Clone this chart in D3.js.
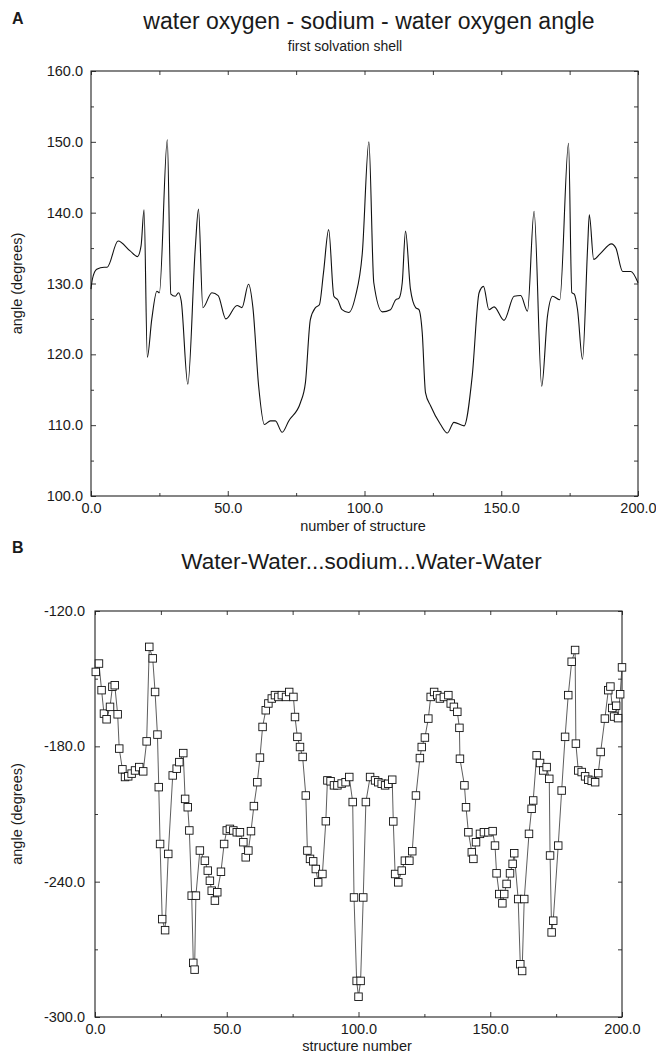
<!DOCTYPE html>
<html>
<head>
<meta charset="utf-8">
<script src="https://cdn.jsdelivr.net/npm/d3@7/dist/d3.min.js"></script>
<style>
body{margin:0;background:#fff;}
text{font-family:"Liberation Sans",Arial,Helvetica,sans-serif;fill:#1a1a1a;}
</style>
</head>
<body>
<svg id="chart" width="656" height="1055"></svg>
<script>
// panel A : water oxygen - sodium - water oxygen angle
const angleStructure = [0,0.5,2.1,4.8,5.9,9.9,14.3,17.0,18.3,19.4,20.6,22.2,24.1,25.0,27.9,29.2,30.8,32.0,33.0,35.4,38.1,39.3,40.9,44.2,46.5,49.3,53.4,55.2,57.6,59.2,61.3,63.4,65.6,67.4,69.9,72.3,76.6,78.4,80.2,82.1,83.5,85.0,86.9,88.8,90.2,91.8,94.2,96.7,99.2,101.6,103.4,106.5,109.5,111.4,112.6,113.8,115.0,116.8,118.7,119.9,121.1,122.3,124.2,127.8,130.3,132.7,136.4,139.4,141.9,143.5,145.5,147.4,151.0,154.7,157.1,159.6,162.0,164.8,166.9,168.8,171.4,174.6,175.8,176.7,177.9,179.7,181.6,182.2,183.8,186.4,190.3,191.9,194.4,197.4,200];
const angleValue = [129.2,130.6,132.0,132.3,132.3,136.0,134.6,133.8,135.3,140.4,119.6,124.9,128.9,128.7,150.3,128.5,128.2,128.7,127.5,115.8,134.8,140.5,126.6,128.7,128.3,125.0,126.9,126.6,129.9,126.6,115.5,110.1,110.6,110.6,109.0,110.6,113.2,116.0,124.9,126.6,127.0,131.5,137.6,128.2,127.7,126.3,125.9,128.2,134.3,150.0,130.1,126.0,126.3,127.7,127.9,130.1,137.4,129.2,126.6,126.3,123.1,114.6,112.7,110.1,108.9,110.4,109.9,117.0,128.7,129.6,126.3,126.7,124.8,128.2,128.3,126.1,140.2,115.5,125.4,128.2,127.7,149.8,128.7,128.5,126.3,119.3,135.3,139.7,133.4,134.3,135.6,135.0,131.7,131.7,130.1];

// panel B : Water-Water...sodium...Water-Water
const dihedralStructure = [0.3,1.5,2.5,3.4,4.4,5.7,6.6,7.5,8.6,9.2,10.4,11.4,12.6,13.9,15.2,16.8,18.3,19.6,20.6,21.9,22.8,23.7,24.2,24.7,25.5,26.6,27.8,29.5,31.0,32.0,33.5,34.2,35.2,35.8,36.7,37.3,37.8,38.3,39.8,41.7,42.8,43.6,44.3,45.5,46.4,47.8,49.0,50.0,51.2,52.5,53.8,55.0,56.3,57.2,58.2,59.2,60.3,61.6,62.6,63.6,64.8,65.8,67.1,68.3,69.6,70.9,72.5,73.7,75.3,75.9,76.8,77.8,78.8,80.0,80.6,81.6,82.8,83.8,84.7,86.3,87.6,88.2,89.4,90.7,92.0,93.6,95.1,96.5,97.8,98.3,99.3,100.0,100.8,101.8,102.8,104.4,106.3,107.5,108.8,110.1,111.3,112.8,113.2,113.9,115.1,116.4,117.6,119.3,120.4,121.8,123.3,124.0,125.2,126.5,127.4,128.7,129.9,130.9,132.4,134.1,135.0,136.2,137.5,138.3,138.5,140.2,140.8,141.7,143.0,143.6,144.6,146.1,147.6,149.3,150.9,151.8,152.4,153.4,154.6,155.3,156.2,157.5,158.5,159.1,160.6,161.4,162.1,162.9,164.7,165.7,166.3,167.6,168.9,170.1,171.4,172.4,172.7,173.3,173.9,175.8,177.1,178.4,179.6,180.9,182.2,182.5,183.4,184.7,186.0,187.2,188.5,189.8,191.0,191.9,193.5,194.8,195.6,196.3,197.0,197.8,198.5,199.3,200];
const dihedralValue = [-147.0,-143.3,-155.1,-165.5,-168.0,-162.5,-153.6,-152.9,-165.8,-181.0,-190.2,-193.6,-193.3,-192.1,-190.7,-189.2,-191.1,-177.8,-135.9,-141.0,-155.9,-174.8,-198.1,-223.3,-256.6,-261.5,-227.7,-192.9,-189.9,-187.0,-183.0,-203.3,-207.0,-217.3,-246.2,-276.0,-279.0,-246.2,-226.2,-230.7,-235.1,-239.6,-244.0,-248.4,-244.7,-235.6,-223.3,-217.3,-216.6,-217.3,-218.1,-218.1,-222.5,-229.2,-226.2,-217.6,-206.5,-195.9,-185.0,-171.4,-164.0,-161.0,-158.8,-157.3,-158.1,-157.3,-158.1,-155.9,-158.1,-167.0,-175.8,-180.3,-184.7,-201.8,-226.2,-229.9,-231.0,-234.4,-240.3,-236.6,-213.2,-195.1,-195.5,-197.3,-197.3,-196.5,-195.9,-193.6,-204.7,-247.0,-284.0,-291.0,-284.0,-247.0,-204.7,-193.6,-195.1,-195.9,-196.6,-197.3,-196.6,-194.8,-213.3,-236.6,-240.3,-235.1,-230.7,-230.7,-226.5,-201.8,-185.2,-180.3,-176.1,-167.7,-158.1,-155.9,-157.3,-158.8,-158.1,-157.3,-161.0,-162.5,-164.7,-171.8,-185.5,-197.3,-207.0,-218.1,-227.0,-229.9,-222.5,-218.8,-218.1,-218.1,-217.6,-224.0,-236.3,-245.5,-249.6,-245.5,-241.0,-236.3,-232.1,-227.4,-247.7,-276.6,-279.6,-247.7,-218.8,-207.7,-204.0,-184.0,-187.4,-190.7,-189.2,-194.4,-228.4,-262.5,-257.3,-224.0,-199.6,-175.8,-157.3,-142.5,-137.3,-178.8,-190.7,-191.4,-193.3,-194.8,-195.3,-195.9,-191.9,-182.5,-167.7,-155.1,-153.5,-163.0,-166.8,-162.0,-167.5,-156.9,-145.0];

const xTickValues = [0,50,100,150,200];
const xMinorTicks = [25,75,125,175];
const yTicksA = [100,110,120,130,140,150,160];
const yMinorA = [105,115,125,135,145,155];
const yTicksB = [-300,-240,-180,-120];
const yMinorB = [-270,-210,-150];

const svg = d3.select("#chart");
// plain hyphen for negatives, like the printed figure
const fmt = v => d3.format(".1f")(v).replace("\u2212","-");

function drawFrame(g, x, y, yTicks, yMinor, labelPad){
    let [x0,x1] = x.range();
    let [y0,y1] = y.range();   // y0 bottom, y1 top

    // inward ticks on all four sides
    g.append("g").attr("transform",`translate(0,${y0})`)
        .call(d3.axisBottom(x).tickValues(xTickValues).tickSizeInner(-5).tickSizeOuter(0).tickPadding(7).tickFormat(fmt));
    g.append("g").attr("transform",`translate(0,${y0})`)
        .call(d3.axisBottom(x).tickValues(xMinorTicks).tickSizeInner(-3).tickSizeOuter(0).tickFormat(""));
    g.append("g").attr("transform",`translate(0,${y1})`)
        .call(d3.axisTop(x).tickValues(xTickValues.concat(xMinorTicks)).tickSizeInner(-4).tickSizeOuter(0).tickFormat(""));
    g.append("g").attr("transform",`translate(${x0},0)`)
        .call(d3.axisLeft(y).tickValues(yTicks).tickSizeInner(-5).tickSizeOuter(0).tickPadding(labelPad).tickFormat(fmt));
    g.append("g").attr("transform",`translate(${x0},0)`)
        .call(d3.axisLeft(y).tickValues(yMinor).tickSizeInner(-3).tickSizeOuter(0).tickFormat(""));
    g.append("g").attr("transform",`translate(${x1},0)`)
        .call(d3.axisRight(y).tickValues(yTicks.concat(yMinor)).tickSizeInner(-4).tickSizeOuter(0).tickFormat(""));

    g.selectAll(".domain").remove();
    g.selectAll(".tick line").attr("stroke","#222").attr("stroke-width",0.9);
    g.selectAll(".tick text").attr("font-size",14.5).attr("fill","#1a1a1a")
        .style("font-family","'Liberation Sans',Arial,sans-serif");

    g.append("rect")
        .attr("x",x0).attr("y",y1)
        .attr("width",x1-x0).attr("height",y0-y1)
        .attr("fill","none").attr("stroke","#222").attr("stroke-width",1.1);
}

// ---------- panel A ----------
let xA = d3.scaleLinear().domain([0,200]).range([91,638]);
let yA = d3.scaleLinear().domain([100,160]).range([496,71]);
let gA = svg.append("g");

gA.append("text").attr("x",12).attr("y",24).attr("font-size",16).attr("font-weight","bold").text("A");
gA.append("text").attr("x",369).attr("y",29).attr("text-anchor","middle").attr("font-size",23)
    .text("water oxygen - sodium - water oxygen angle");
gA.append("text").attr("x",345).attr("y",51).attr("text-anchor","middle").attr("font-size",14)
    .text("first solvation shell");

drawFrame(gA, xA, yA, yTicksA, yMinorA, 8);

gA.append("path")
    .datum(angleStructure.map((s,i)=>[s,angleValue[i]]))
    .attr("fill","none").attr("stroke","#111").attr("stroke-width",1.1)
    .attr("d", d3.line().x(d=>xA(d[0])).y(d=>yA(d[1])).curve(d3.curveMonotoneX));

gA.append("text").attr("x",363).attr("y",531).attr("text-anchor","middle").attr("font-size",14.5)
    .text("number of structure");
gA.append("text").attr("transform",`translate(22,${(71+496)/2}) rotate(-90)`)
    .attr("text-anchor","middle").attr("font-size",14.5).text("angle (degrees)");

// ---------- panel B ----------
let xB = d3.scaleLinear().domain([0,200]).range([95,622]);
let yB = d3.scaleLinear().domain([-300,-120]).range([1017,611]);
let gB = svg.append("g");

gB.append("text").attr("x",12).attr("y",553).attr("font-size",16).attr("font-weight","bold").text("B");
gB.append("text").attr("x",361.5).attr("y",569).attr("text-anchor","middle").attr("font-size",22.5)
    .text("Water-Water...sodium...Water-Water");

drawFrame(gB, xB, yB, yTicksB, yMinorB, 10);

let ptsB = dihedralStructure.map((s,i)=>[s,dihedralValue[i]]);
gB.append("path")
    .datum(ptsB)
    .attr("fill","none").attr("stroke","#333").attr("stroke-width",0.8)
    .attr("d", d3.line().x(d=>xB(d[0])).y(d=>yB(d[1])));

const sq = 7.5;
gB.selectAll("rect.pt").data(ptsB).enter()
    .append("rect").attr("class","pt")
    .attr("x",d=>xB(d[0])-sq/2).attr("y",d=>yB(d[1])-sq/2)
    .attr("width",sq).attr("height",sq)
    .attr("fill","#fff").attr("stroke","#111").attr("stroke-width",0.9);

gB.append("text").attr("x",357).attr("y",1051).attr("text-anchor","middle").attr("font-size",14.5)
    .text("structure number");
gB.append("text").attr("transform",`translate(22,${(611+1017)/2}) rotate(-90)`)
    .attr("text-anchor","middle").attr("font-size",14.5).text("angle (degrees)");
</script>
</body>
</html>
